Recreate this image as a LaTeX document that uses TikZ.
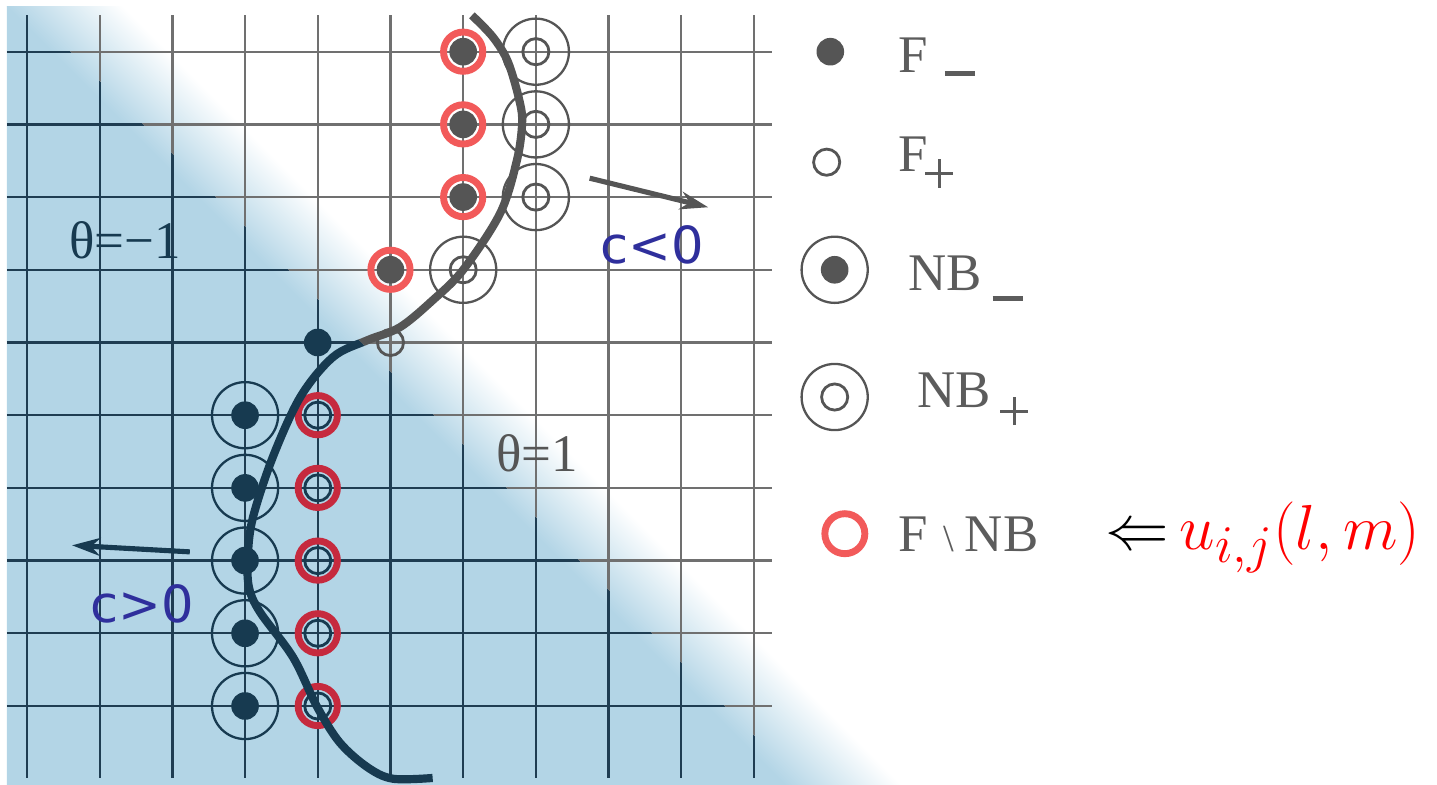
\documentclass[tikz,border=0pt]{standalone}
\usepackage{fontspec}
\setmainfont{Liberation Serif}
\newfontfamily\speedfont{DejaVu Sans}
\usepackage{xcolor}
\definecolor{BgBlue}{HTML}{B3D5E6}
\definecolor{GridGray}{HTML}{707070}
\definecolor{GridNavy}{HTML}{1F3D52}
\definecolor{DotGray}{HTML}{555555}
\definecolor{DotNavy}{HTML}{173A50}
\definecolor{RingSalmon}{HTML}{F25A5A}
\definecolor{RingCrimson}{HTML}{C62A3E}
\definecolor{SpeedBlue}{HTML}{2F2F9C}
\definecolor{LegGray}{HTML}{5C5C5C}
\usetikzlibrary{arrows.meta, calc}

% front curve, used twice (navy and gray part)
\newcommand{\frontcurve}{plot[smooth, tension=0.55] coordinates {
  (6.12,9.50) (6.41,9.20) (6.62,8.85) (6.78,8.30) (6.81,8.0) (6.74,7.51)
  (6.51,6.78) (6.0,6.0) (5.58,5.58) (5.13,5.21) (4.68,5.03) (4.21,4.80)
  (3.76,4.25) (3.38,3.42) (3.11,2.60) (3.04,2.1) (3.05,1.65) (3.2,1.3)
  (3.66,0.67) (3.99,-0.01) (4.3,-0.5) (4.68,-0.84) (5.03,-1.0) (5.58,-0.99)}}
\newcommand{\blueside}{(-1,10.6) -- (11.6,-2) -- (-1,-2) -- cycle}
\newcommand{\whiteside}{(-1,10.6) -- (21,10.6) -- (21,-2) -- (11.6,-2) -- cycle}
% legend sub-signs
\newcommand{\legminus}[1]{\rule[#1]{0.58em}{0.095em}}
\newcommand{\legplus}[1]{\raisebox{#1}{\rlap{\rule[0.235em]{0.53em}{0.06em}}\hspace{0.235em}\rule{0.06em}{0.53em}\hspace{0.235em}}}

\begin{document}
\begin{tikzpicture}[x=1cm, y=1cm,
    gridline/.style={line width=0.9pt},
    nbring/.style={line width=0.9pt},
    fring/.style={line width=1.1pt},
    exring/.style={line width=2.7pt},
    frontline/.style={line width=3.2pt},
    speedarrow/.style={line width=2pt, -{Stealth[length=11pt, width=7pt]}},
    legtext/.style={inner sep=0pt, font=\fontsize{20.7}{24}\selectfont, text=LegGray},
    thetalabel/.style={inner sep=0pt, font=\fontsize{20.7}{24}\selectfont},
    speedlabel/.style={inner sep=0pt, font=\speedfont\fontsize{20}{24}\selectfont, text=SpeedBlue}]
  \useasboundingbox (-0.371,-1.073) rectangle (19.395,9.711);

  % blue half with soft diagonal edge
  \begin{scope}
    \clip (-0.275,-1.073) rectangle (19.395,9.615);
    \begin{scope}[transform canvas={rotate=45}]
      \fill[BgBlue] (-5,-20) rectangle (6.62,20);
      \shade[left color=BgBlue, right color=white] (6.61,-20) rectangle (7.74,20);
    \end{scope}
  \end{scope}

  % grid, navy in the blue part and gray in the white part
  \begin{scope}
    \clip \blueside;
    \foreach \i in {0,...,10} \draw[gridline, GridNavy] (\i,-0.99) -- (\i,9.50);
    \foreach \j in {0,...,9} \draw[gridline, GridNavy] (-0.275,\j) -- (10.25,\j);
  \end{scope}
  \begin{scope}
    \clip \whiteside;
    \foreach \i in {0,...,10} \draw[gridline, GridGray] (\i,-0.99) -- (\i,9.50);
    \foreach \j in {0,...,9} \draw[gridline, GridGray] (-0.275,\j) -- (10.25,\j);
  \end{scope}

  % upper points
  \foreach \x/\y in {6/9, 6/8, 6/7, 5/6} {
    \draw[exring, RingSalmon] (\x,\y) circle (0.27);
    \fill[DotGray] (\x,\y) circle (0.19);
  }
  \foreach \x/\y in {7/9, 7/8, 7/7, 6/6} {
    \draw[nbring, DotGray] (\x,\y) circle (0.455);
    \draw[fring, DotGray] (\x,\y) circle (0.18);
  }
  \draw[fring, DotGray] (5,5) circle (0.18);
  \fill[DotNavy] (4,5) circle (0.19);
  % lower points
  \foreach \y in {0,...,4} {
    \draw[nbring, DotNavy] (3,\y) circle (0.455);
    \fill[DotNavy] (3,\y) circle (0.19);
    \draw[exring, RingCrimson] (4,\y) circle (0.27);
    \draw[fring, DotNavy] (4,\y) circle (0.18);
  }

  % front
  \begin{scope}
    \clip \blueside;
    \draw[frontline, DotNavy] \frontcurve;
  \end{scope}
  \begin{scope}
    \clip \whiteside;
    \draw[frontline, DotGray] \frontcurve;
  \end{scope}

  % speed arrows
  \coordinate (negtail) at (7.74,7.26);
  \coordinate (neghead) at (9.37,6.86);
  \coordinate (postail) at (2.24,2.12);
  \coordinate (poshead) at (0.62,2.21);
  \draw[speedarrow, DotGray] (negtail) -- (neghead);
  \draw[speedarrow, DotNavy] (postail) -- (poshead);
  \node[speedlabel] (negspeed) at (8.60,6.34) {c<0};
  \node[speedlabel] (posspeed) at (1.58,1.40) {c>0};

  % phase labels
  \node[thetalabel, text=DotNavy] (thetaneg) at (1.35,6.41) {θ=−1};
  \node[thetalabel, text=DotGray] (thetapos) at (7.02,3.48) {θ=1};

  % legend
  \fill[DotGray] (11.05,9.0) circle (0.19);
  \node[legtext, anchor=base west] (legfm) at (11.98,8.72) {F\hspace{0.32em}\legminus{-0.075em}};
  \draw[fring, DotGray] (11.0,7.48) circle (0.18);
  \node[legtext, anchor=base west] (legfp) at (11.98,7.35) {F\hspace{-0.05em}\legplus{-0.30em}};
  \draw[nbring, DotGray] (11.11,6.0) circle (0.455);
  \fill[DotGray] (11.11,6.0) circle (0.19);
  \node[legtext, anchor=base west] (legnbm) at (12.12,5.72) {NB\hspace{0.2em}\legminus{-0.2em}};
  \draw[nbring, DotGray] (11.11,4.25) circle (0.455);
  \draw[fring, DotGray] (11.11,4.25) circle (0.18);
  \node[legtext, anchor=base west] (legnbp) at (12.24,4.11) {NB\hspace{0.18em}\legplus{-0.34em}};
  \draw[exring, RingSalmon] (11.25,2.37) circle (0.275);
  \node[legtext, anchor=base west] (legex) at (11.98,2.12)
    {F\hspace{0.3em}{\fontsize{15}{15}\selectfont\textbackslash}\hspace{0.2em}NB};
  \node[inner sep=0pt, anchor=west, font=\fontsize{28}{32}\selectfont] (update) at (14.83,2.32)
    {$\Leftarrow\mkern-2mu{\color{red}u_{i,j}(l,m)}$};
\end{tikzpicture}
\end{document}
